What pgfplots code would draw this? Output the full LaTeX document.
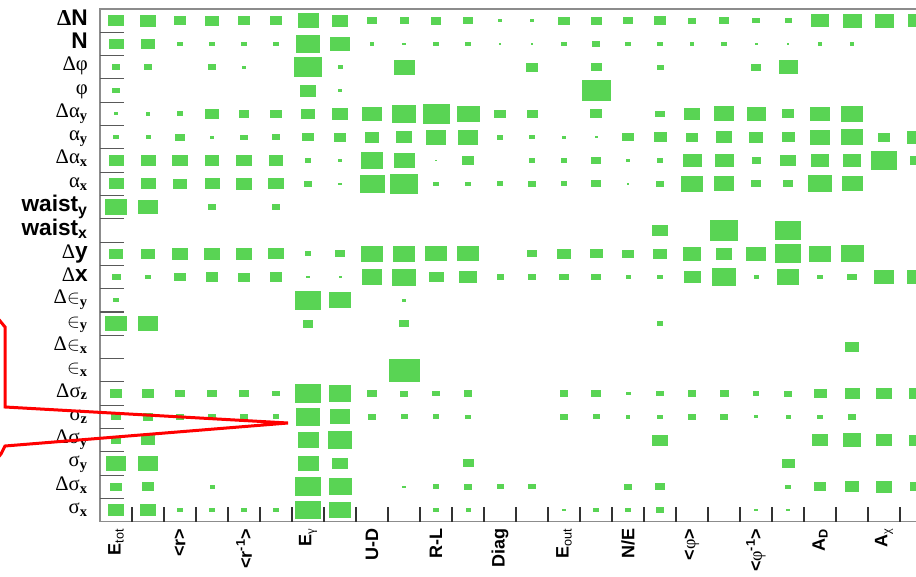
\documentclass[border=0pt]{standalone}
\usepackage{amsmath}
\usepackage{fontspec}
\setmainfont{Liberation Sans}
\newfontfamily\grk{Liberation Serif}
\usepackage{pgfplots}
\pgfplotsset{compat=1.18}
\definecolor{boxgreen}{RGB}{89,212,84}
\pgfdeclareplotmark{rbox}{%
  \pgfpathrectangle{\pgfpoint{-1.373\pgfplotmarksize}{-\pgfplotmarksize}}{\pgfpoint{2.746\pgfplotmarksize}{2\pgfplotmarksize}}%
  \pgfusepathqfill}
\newcommand{\gk}[1]{{\fontsize{15.5}{15.5}\selectfont\grk #1}}
\newcommand{\bg}[1]{\raisebox{-1pt}{\fontsize{17}{17}\selectfont #1}}
\newcommand{\bs}[1]{_{\textbf{#1}}}
\pgfplotstableread{
x y w
0 21 15.7
1 21 16
2 21 12.7
3 21 13.3
4 21 11.7
5 21 11.7
6 21 21
7 21 16
8 21 9.3
9 21 9
10 21 10.7
11 21 10
12 21 4
13 21 3.3
14 21 11.3
15 21 11
16 21 10
17 21 12.7
18 21 8.3
19 21 9.7
20 21 7.3
21 21 7
22 21 18
23 21 19
24 21 19
25 21 17
0 20 15
1 20 13.3
2 20 6.7
3 20 6.7
4 20 6
5 20 6.7
6 20 24.7
7 20 20
8 20 4.7
9 20 4
10 20 5.3
11 20 6.7
12 20 2
13 20 1.5
14 20 6
15 20 7.7
16 20 5.3
17 20 6.3
18 20 4.3
19 20 6
20 20 3
21 20 2
22 20 4.3
23 20 4.3
0 19 8.3
1 19 8.3
3 19 7.7
4 19 3.7
6 19 28
7 19 5
9 19 21
13 19 12.7
15 19 11
17 19 7
20 19 9.3
21 19 19
0 18 7.3
6 18 16.7
7 18 3.3
15 18 29
0 17 4
1 17 4.7
2 17 6.7
3 17 13.3
4 17 10
5 17 11.3
6 17 13.3
7 17 15.7
8 17 20
9 17 23.7
10 17 27
11 17 23
12 17 11.3
13 17 11
15 17 12.3
17 17 9.3
18 17 15.7
19 17 20.7
20 17 19
21 17 12.3
22 17 19.3
23 17 22
0 16 5.3
1 16 5
2 16 9.7
3 16 4
4 16 7.3
5 16 8.7
6 16 11.3
7 16 12.3
8 16 14.7
9 16 16.7
10 16 20.7
11 16 20.7
12 16 6.7
13 16 6.3
14 16 4
15 16 3
16 16 11.3
17 16 13
18 16 12.7
19 16 15.7
20 16 14.7
21 16 13
22 16 20.7
23 16 22
24 16 12
25 16 18
0 15 15
1 15 15
2 15 15.3
3 15 14.7
4 15 16
5 15 14.3
6 15 6.7
7 15 3.3
8 15 22.3
9 15 21
10 15 2
11 15 11.3
13 15 6.3
14 15 6.3
15 15 9.3
16 15 4.7
17 15 6
18 15 19
19 15 19
20 15 9
21 15 16
22 15 18
23 15 18.7
24 15 26.3
25 15 12
0 14 15
1 14 15
2 14 13.3
3 14 15
4 14 16
5 14 15.3
6 14 8
7 14 3.3
8 14 25
9 14 28
10 14 6.3
11 14 6.3
12 14 6.7
13 14 7.7
14 14 6.7
15 14 9.3
16 14 2
17 14 8
18 14 21.3
19 14 20.7
20 14 10
21 14 10
22 14 23.7
23 14 21
0 13 22.3
1 13 19.3
3 13 7.3
5 13 7.3
17 12 15.3
19 12 28.3
21 12 25.7
0 11 14
1 11 13.3
2 11 16.7
3 11 16.7
4 11 16.7
5 11 15.7
6 11 6.7
7 11 9.3
8 11 21.7
9 11 22
10 11 21.3
11 11 21.3
13 11 10
14 11 13.3
15 11 13
16 11 11.3
17 11 14.3
18 11 18.7
19 11 16.7
20 11 19.7
21 11 25.7
22 11 21.7
23 11 23
0 10 9
1 10 6.3
2 10 11.7
3 10 12.7
4 10 12.3
5 10 12.7
6 10 3.7
7 10 3
8 10 20.7
9 10 23.3
10 10 15
11 10 17.3
12 10 7
13 10 7.3
14 10 9.3
15 10 9.3
16 10 5
17 10 6.3
18 10 17
19 10 24.7
20 10 5
21 10 21.7
22 10 6
23 10 9.3
24 10 20.3
25 10 18
0 9 5.7
6 9 26
7 9 22.3
9 9 3.3
0 8 21.3
1 8 20.7
6 8 10.7
9 8 10.3
17 8 6.7
23 7 14.3
9 6 31
0 5 12.3
1 5 12.3
2 5 10
3 5 10
4 5 10
5 5 7.3
6 5 25.7
7 5 22.3
8 5 9.3
9 5 8.3
10 5 8
11 5 8.7
14 5 8.7
15 5 10.3
16 5 5
17 5 7.3
18 5 8.7
19 5 9
20 5 6.3
21 5 8.3
22 5 13
23 5 15
24 5 16
25 5 14
0 4 10
1 4 10.7
2 4 7.3
3 4 7.7
4 4 7.7
5 4 6.7
6 4 24
7 4 20.7
8 4 8
9 4 7
10 4 6.7
11 4 6.3
14 4 7.7
15 4 7
16 4 4.7
17 4 6.3
18 4 7.3
19 4 7.3
20 4 4
21 4 5
22 4 6.3
23 4 8.3
0 3 10.7
1 3 14
6 3 21
7 3 24
17 3 15.3
22 3 15.7
23 3 18.3
24 3 15.7
25 3 15
0 2 20.7
1 2 20
6 2 21
7 2 16
11 2 11
21 2 13
0 1 11.3
1 1 12.7
3 1 5
6 1 26
7 1 23
9 1 3.3
10 1 6.7
11 1 8.3
12 1 7
13 1 7.3
16 1 7.7
17 1 9.7
21 1 5.7
22 1 12.7
23 1 14.7
24 1 16
25 1 12
0 0 15.7
1 0 15.3
2 0 5.7
3 0 5.3
4 0 5.3
5 0 6
6 0 25.7
7 0 21.7
10 0 5.3
11 0 5
14 0 3.7
15 0 6.5
16 0 6.3
17 0 7.3
20 0 3.7
21 0 3.7
}\boxdata
\begin{document}
\begin{tikzpicture}
\useasboundingbox (0,0) rectangle (687pt,432pt);
\clip (0,0) rectangle (687pt,432pt);
\begin{axis}[
  at={(75pt,40.725pt)}, anchor=south west,
  scale only axis, width=624pt, height=384.5pt,
  xmin=-0.5, xmax=25.5, ymin=-0.5, ymax=21.5,
  axis line style={draw=black!45, line width=1pt},
  tick pos=left, tick align=inside,
  major tick length=0pt,
  xtick={0,2,...,24},
  xticklabels={
    {\textbf{E}$_{\text{tot}}$},
    {\textbf{<r>}},
    {\textbf{<r}$^{\textbf{-1}}$\textbf{>}},
    {\textbf{E}$_{\text{\grk γ}}$},
    {\textbf{U-D}},
    {\textbf{R-L}},
    {\textbf{Diag}},
    {\textbf{E}$_{\text{out}}$},
    {\textbf{N/E}},
    {\textbf{<}{\grk φ}\textbf{>}},
    {\textbf{<}{\grk φ}$^{\textbf{-1}}$\textbf{>}},
    {\textbf{A}$_{\textbf{D}}$},
    {\textbf{A}$_{\text{\grk χ}}$}},
  xticklabel style={font=\fontsize{13.5}{13.5}\selectfont, rotate=90, anchor=east, inner sep=0pt},
  xticklabel shift=5pt,
  ytick={0,...,21},
  yticklabels={
    {\gk{σ$\bs{x}$}},
    {\gk{Δσ$\bs{x}$}},
    {\gk{σ$\bs{y}$}},
    {\gk{Δσ$\bs{y}$}},
    {\gk{σ$\bs{z}$}},
    {\gk{Δσ$\bs{z}$}},
    {\gk{$\mathord{\in}\bs{x}$}},
    {\gk{Δ$\mathord{\in}\bs{x}$}},
    {\gk{$\mathord{\in}\bs{y}$}},
    {\gk{Δ$\mathord{\in}\bs{y}$}},
    {\bg{\gk{Δ}\textbf{x}}},
    {\bg{\gk{Δ}\textbf{y}}},
    {\bg{\textbf{waist}$\bs{x}$}},
    {\bg{\textbf{waist}$\bs{y}$}},
    {\gk{α$\bs{x}$}},
    {\gk{Δα$\bs{x}$}},
    {\gk{α$\bs{y}$}},
    {\gk{Δα$\bs{y}$}},
    {\gk{φ}},
    {\gk{Δφ}},
    {\bg{\textbf{N}}},
    {\bg{{\grk\bfseries Δ}\textbf{N}}}},
  yticklabel style={anchor=base east, inner sep=0pt, yshift=-2.6pt},
  yticklabel shift=9pt,
  extra x ticks={0.5,1.5,...,24.5}, extra x tick labels={},
  extra x tick style={grid=none, major tick length=11pt, tick style={black!80, line width=0.8pt}},
  extra y ticks={0.5,1.5,...,20.5}, extra y tick labels={},
  extra y tick style={grid=none, major tick length=18pt, tick style={black!65, line width=0.8pt}},
]
\addplot[only marks, mark=rbox, scatter,
  scatter/use mapped color={draw=boxgreen, fill=boxgreen},
  visualization depends on={0.2731*\thisrow{w} \as \ms},
  scatter/@pre marker code/.append style={/tikz/mark size=\ms}]
  table[x=x, y=y] {\boxdata};
\end{axis}
\draw[red, line width=2.25pt, line join=miter]
  (-3pt,195pt) -- (3.75pt,186.75pt) -- (3.75pt,126.75pt) -- (216pt,114.75pt)
  -- (3.75pt,97.5pt) -- (0.75pt,91.5pt) -- (-3pt,87pt);
\end{tikzpicture}
\end{document}
